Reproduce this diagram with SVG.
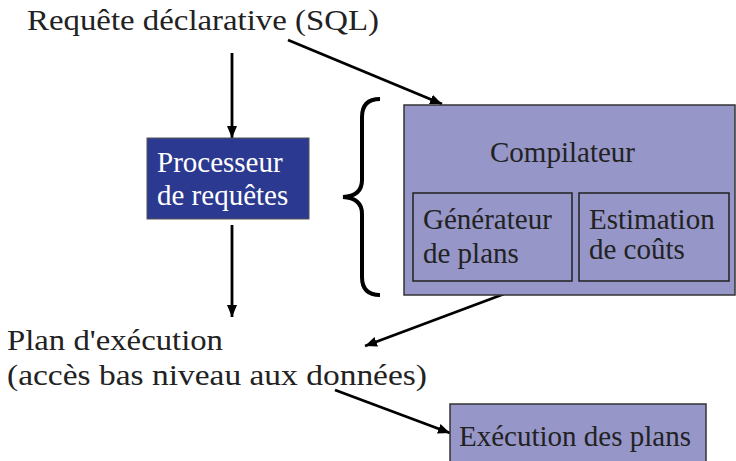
<svg xmlns="http://www.w3.org/2000/svg" width="736" height="461" viewBox="0 0 736 461">
<style>
.t{font-family:'Liberation Serif','Times New Roman',Times,'DejaVu Serif',serif;font-size:29px;fill:#222}
.w{fill:#fff}
.box{fill:#9696C8;stroke:#333;stroke-width:1.5}
.inner{fill:#9696C8;stroke:#222;stroke-width:1.5}
.c{stroke:#000;stroke-width:2.8;fill:none}
</style>
<defs>
<marker id="ah" markerUnits="userSpaceOnUse" markerWidth="13" markerHeight="11" refX="12" refY="5" orient="auto">
<path d="M0,0 L12,5 L0,10 z" fill="#000"/>
</marker>
</defs>
<rect width="736" height="461" fill="#fff"/>
<g id="connectors">
<line class="c" x1="232" y1="53" x2="232" y2="138" marker-end="url(#ah)"/>
<line class="c" x1="288" y1="40" x2="442" y2="104" marker-end="url(#ah)"/>
<line class="c" x1="232" y1="225" x2="232" y2="317" marker-end="url(#ah)"/>
<line class="c" x1="504" y1="294" x2="365" y2="346" marker-end="url(#ah)"/>
<line class="c" x1="335" y1="390" x2="450" y2="433" marker-end="url(#ah)"/>
</g>
<g id="requete">
<text class="t" x="27" y="30" textLength="352" lengthAdjust="spacingAndGlyphs">Requête déclarative (SQL)</text>
</g>
<g id="processeur">
<rect x="147" y="138" width="162" height="81" fill="#2B3990" stroke="#555" stroke-width="1"/>
<text class="t w" x="157" y="172">Processeur</text>
<text class="t w" x="157" y="205">de requêtes</text>
</g>
<g id="brace">
<path d="M380,99 Q362,99 362,117 L362,180 Q362,196 343,197 Q362,198 362,214 L362,277 Q362,295 380,295" fill="none" stroke="#000" stroke-width="4"/>
</g>
<g id="compilateur">
<rect class="box" x="404" y="105" width="331" height="190"/>
<text class="t" x="490" y="162">Compilateur</text>
</g>
<g id="generateur">
<rect class="inner" x="413" y="193" width="159" height="88"/>
<text class="t" x="423" y="229">Générateur</text>
<text class="t" x="423" y="263">de plans</text>
</g>
<g id="estimation">
<rect class="inner" x="579" y="193" width="150" height="88"/>
<text class="t" x="589" y="229">Estimation</text>
<text class="t" x="589" y="259">de coûts</text>
</g>
<g id="plan">
<text class="t" x="7" y="350" textLength="216" lengthAdjust="spacingAndGlyphs">Plan d'exécution</text>
<text class="t" x="7" y="385" textLength="420" lengthAdjust="spacingAndGlyphs">(accès bas niveau aux données)</text>
</g>
<g id="execution">
<rect class="box" x="450" y="404" width="256" height="70"/>
<text class="t" x="459" y="446">Exécution des plans</text>
</g>
</svg>
